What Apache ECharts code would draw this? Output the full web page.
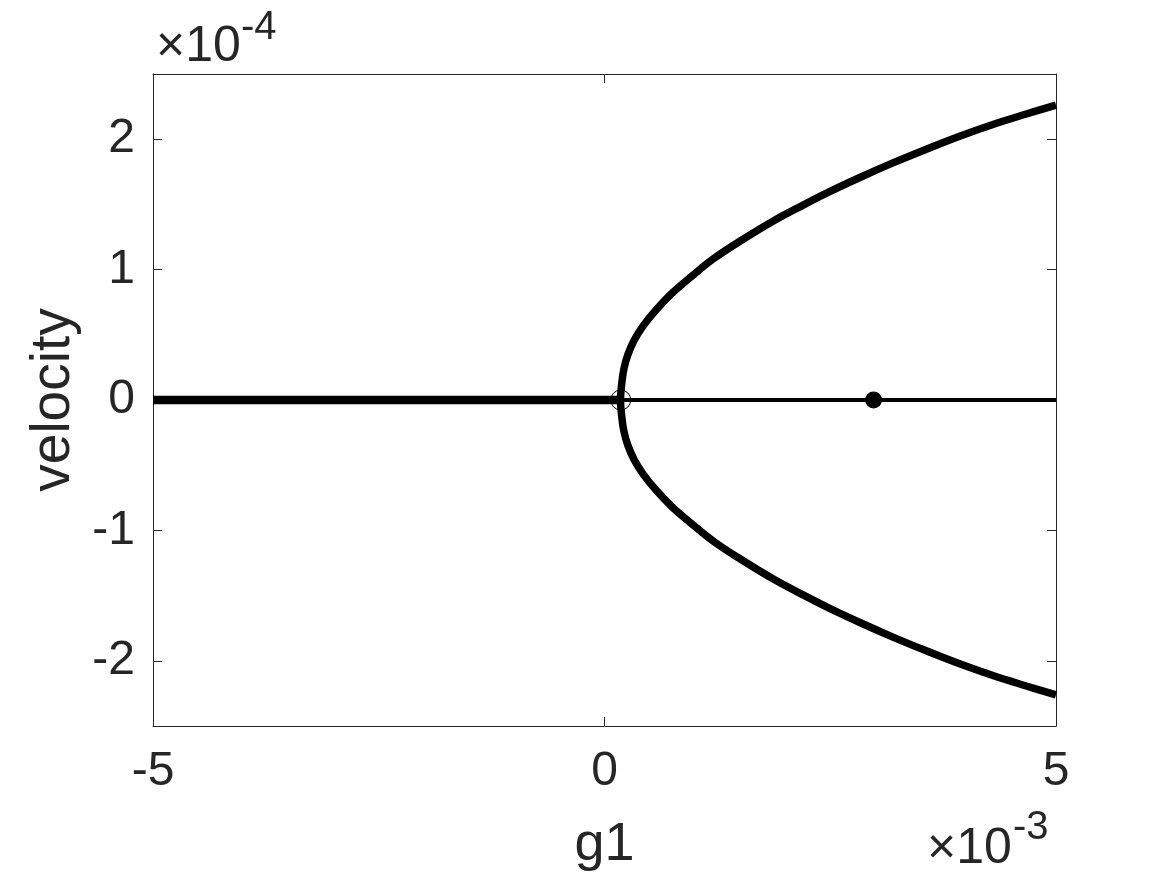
<!DOCTYPE html>
<html>
<head>
<meta charset="utf-8">
<title>velocity vs g1</title>
<script src="https://cdn.jsdelivr.net/npm/echarts@6/dist/echarts.min.js"></script>
<style>
  html, body { margin: 0; padding: 0; background: #fff; }
  #chart { width: 1167px; height: 875px; }
</style>
</head>
<body>
<div id="chart"></div>
<script>
// values in displayed units: g1 in 1e-3, velocity in 1e-4
var xTicks = [-5, 0, 5];
var yTicks = [-2, -1, 0, 1, 2];

// trivial branch, thick part (left of the bifurcation) and thin part (right of it)
var thickG = [-5, 0.18];
var thickV = [0, 0];
var thinG = [0.18, 5];
var thinV = [0, 0];

// parabola branch, traced from the lower end through the vertex to the upper end
var branchG = [5.00, 4.68, 4.31, 3.94, 3.57, 3.20, 2.84, 2.47, 2.20, 1.875, 1.54, 1.21, 0.95, 0.75, 0.57, 0.43, 0.33, 0.26, 0.215, 0.19,
               0.177,
               0.19, 0.215, 0.26, 0.33, 0.43, 0.57, 0.75, 0.95, 1.21, 1.54, 1.875, 2.20, 2.47, 2.84, 3.20, 3.57, 3.94, 4.31, 4.68, 5.00];
var branchV = [-2.262, -2.195, -2.115, -2.025, -1.925, -1.82, -1.71, -1.59, -1.495, -1.375, -1.235, -1.085, -0.94, -0.82, -0.69, -0.57, -0.46, -0.35, -0.24, -0.12,
               0,
               0.12, 0.24, 0.35, 0.46, 0.57, 0.69, 0.82, 0.94, 1.085, 1.235, 1.375, 1.495, 1.59, 1.71, 1.82, 1.925, 2.025, 2.115, 2.195, 2.262];

// special points
var openPt = [0.18, 0];
var filledPt = [2.98, 0];

function pairs(xs, ys) {
  return xs.map(function (x, i) { return [x, ys[i]]; });
}

var FONT = 'Liberation Sans, Arial, Helvetica, sans-serif';
var TXT = '#262626';

var chart = echarts.init(document.getElementById('chart'));

var axisLine = { show: true, onZero: false, lineStyle: { color: TXT, width: 1 } };
var tickStyle = { show: true, inside: true, length: 9, lineStyle: { color: TXT, width: 1 } };

var option = {
  animation: false,
  backgroundColor: '#fff',
  grid: { left: 153, right: 111, top: 74, bottom: 149, containLabel: false, outerBoundsMode: 'none' },
  xAxis: [
    {
      type: 'value', min: -5, max: 5, interval: 5,
      position: 'bottom',
      axisLine: axisLine,
      axisTick: Object.assign({ customValues: xTicks }, tickStyle),
      axisLabel: { customValues: xTicks, fontSize: 48, fontFamily: FONT, color: TXT, margin: 22 },
      splitLine: { show: false },
      name: 'g1', nameLocation: 'middle', nameGap: 92,
      nameTextStyle: { fontSize: 54, fontFamily: FONT, color: TXT }
    },
    {
      type: 'value', min: -5, max: 5, interval: 5,
      position: 'top',
      axisLine: axisLine,
      axisTick: Object.assign({ customValues: xTicks }, tickStyle),
      axisLabel: { show: false },
      splitLine: { show: false }
    }
  ],
  yAxis: [
    {
      type: 'value', min: -2.5, max: 2.5, interval: 0.5,
      position: 'left',
      axisLine: axisLine,
      axisTick: Object.assign({ customValues: yTicks }, tickStyle),
      axisLabel: { customValues: yTicks, fontSize: 48, fontFamily: FONT, color: TXT, margin: 18 },
      splitLine: { show: false },
      name: 'velocity', nameLocation: 'middle', nameRotate: 90, nameGap: 72,
      nameTextStyle: { fontSize: 55, fontFamily: FONT, color: TXT }
    },
    {
      type: 'value', min: -2.5, max: 2.5, interval: 0.5,
      position: 'right',
      axisLine: axisLine,
      axisTick: Object.assign({ customValues: yTicks }, tickStyle),
      axisLabel: { show: false },
      splitLine: { show: false }
    }
  ],
  graphic: [
    { type: 'text', x: 156, y: 47, style: { text: '×10', font: '50px ' + FONT, fill: TXT, textVerticalAlign: 'middle' } },
    { type: 'text', x: 241, y: 28, style: { text: '-4', font: '40px ' + FONT, fill: TXT, textVerticalAlign: 'middle' } },
    { type: 'text', x: 927, y: 849, style: { text: '×10', font: '50px ' + FONT, fill: TXT, textVerticalAlign: 'middle' } },
    { type: 'text', x: 1013, y: 828, style: { text: '-3', font: '40px ' + FONT, fill: TXT, textVerticalAlign: 'middle' } }
  ],
  series: [
    {
      type: 'line', data: pairs(thickG, thickV), showSymbol: false,
      lineStyle: { color: '#000', width: 8.5 }, z: 2
    },
    {
      type: 'line', data: pairs(thinG, thinV), showSymbol: false,
      lineStyle: { color: '#000', width: 4 }, z: 2
    },
    {
      type: 'line', data: pairs(branchG, branchV), showSymbol: false, smooth: 0.4,
      lineStyle: { color: '#000', width: 7.5 }, z: 3
    },
    {
      type: 'scatter', data: [openPt], symbol: 'circle', symbolSize: 20,
      itemStyle: { color: 'rgba(0,0,0,0)', borderColor: '#000', borderWidth: 1, opacity: 1 }, z: 4
    },
    {
      type: 'scatter', data: [filledPt], symbol: 'circle', symbolSize: 17,
      itemStyle: { color: '#000', opacity: 1 }, z: 4
    }
  ]
};

chart.setOption(option);
</script>
</body>
</html>
